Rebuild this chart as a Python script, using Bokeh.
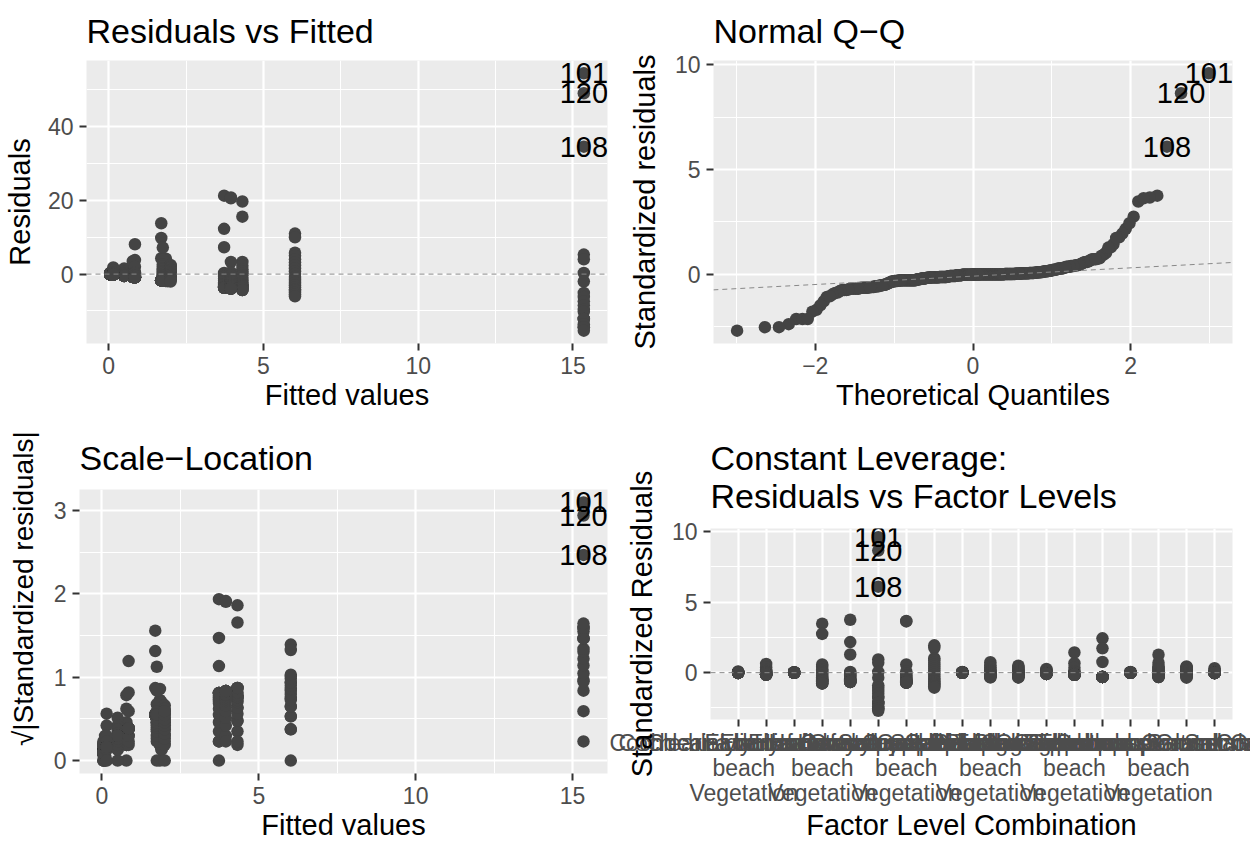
import numpy as np
from statistics import NormalDist
from bokeh.plotting import figure
from bokeh.layouts import column, row
from bokeh.models import Range1d, FixedTicker, ColumnDataSource, Span, Slope
from bokeh.embed import file_html
from bokeh.resources import INLINE
from bokeh.core.properties import value

# ---------------- data ----------------
species = ["Cochlearia danica", "Elymus farctus", "Honckenya peploides",
           "Salsola kali", "Plantago coronopus", "Tripleurospermum"]
habitats = ["Coastal\nbeach\nVegetation", "Grassland", "Saltmarsh"]

fitted_values = [0.10, 0.78, 0.05, 4.32, 3.73, 15.35, 3.95, 6.02, 0.05,
                 1.85, 1.90, 0.50, 0.85, 1.70, 0.05, 1.75, 2.00, 0.15]

res_g01 = [0.50, 0.30, 0.15, 0.10, 0.05, 0.02, 0.00, -0.02, -0.05, -0.08,
           -0.10, -0.10, -0.10, -0.10, -0.10, -0.10, -0.10, -0.10, -0.10, -0.10]
res_g02 = [3.50, 2.20, 1.20, 0.70, 0.40, 0.20, 0.20, 0.00, -0.20, -0.30,
           -0.78, -0.78, -0.78, -0.78, -0.78, -0.78, -0.78, -0.78, -0.78, -0.78]
res_g03 = [0.20, 0.20, 0.15, 0.10, 0.05, 0.00, -0.05, -0.05, -0.05, -0.05,
           -0.05, -0.05, -0.05, -0.05, -0.05, -0.05, -0.05, -0.05, -0.05, -0.05]
res_g04 = [19.70, 15.60, 3.30, 2.30, 1.30, 0.70, 0.20, -0.30, -1.30, -1.80,
           -2.30, -2.80, -3.00, -3.30, -3.30, -3.50, -3.80, -4.32, -4.32, -4.32]
res_g05 = [21.30, 12.30, 7.30, 0.30, 0.00, -0.30, -0.70, -1.20, -1.70, -2.20,
           -2.70, -2.90, -3.10, -3.30, -3.50, -3.73, -3.73, -3.73, -3.73, -3.73]
res_g06 = [54.50, 5.30, 4.00, 0.30, -2.00, -5.10, -6.20, 34.60, -7.40, -8.50,
           -9.70, -10.20, -12.20, -12.20, -12.20, -13.60, -14.40, -14.40, -15.35, 49.10]
res_g07 = [20.80, 20.60, 3.30, 0.50, -0.30, -1.00, -1.50, -2.00, -2.50, -2.90,
           -3.10, -3.30, -3.50, -3.60, -3.95, -3.95, -3.95, -3.95, -3.95, -3.95]
res_g08 = [11.00, 10.00, 5.80, 5.00, 4.00, 3.20, 2.40, 1.60, 0.80, 0.00,
           -0.80, -1.60, -2.40, -3.00, -3.60, -4.20, -4.60, -5.00, -5.50, -6.02]
res_g09 = [0.25, 0.20, 0.15, 0.10, 0.05, 0.00, -0.02, -0.05, -0.05, -0.05,
           -0.05, -0.05, -0.05, -0.05, -0.05, -0.05, -0.05, -0.05, -0.05, -0.05]
res_g10 = [4.20, 3.00, 2.20, 1.50, 0.90, 0.60, 0.40, 0.20, 0.00, -0.20,
           -0.40, -0.60, -0.80, -1.00, -1.10, -1.20, -1.30, -1.50, -1.85, -1.85]
res_g11 = [2.80, 2.40, 2.00, 1.60, 1.20, 0.90, 0.60, 0.30, 0.10, -0.10,
           -0.30, -0.50, -0.70, -0.90, -1.00, -1.10, -1.20, -1.40, -1.90, -1.90]
res_g12 = [1.50, 1.00, 0.80, 0.60, 0.40, 0.20, 0.10, 0.00, -0.10, -0.20,
           -0.30, -0.40, -0.50, -0.50, -0.50, -0.50, -0.50, -0.50, -0.50, -0.50]
res_g13 = [8.10, 3.80, 2.00, 0.50, 0.20, -0.30, -0.50, -0.85, -0.85, -0.85,
           -0.85, -0.85, -0.85, -0.85, -0.85, -0.85, -0.85, -0.85, -0.85, -0.85]
res_g14 = [13.80, 9.80, 4.30, -1.70, -1.70, -1.70, -1.70, -1.70, -1.70, -1.70,
           -1.70, -1.70, -1.70, -1.70, -1.70, -1.70, -1.70, -1.70, -1.70, -1.70]
res_g15 = [0.30, 0.20, 0.10, 0.05, 0.00, -0.05, -0.05, -0.05, -0.05, -0.05,
           -0.05, -0.05, -0.05, -0.05, -0.05, -0.05, -0.05, -0.05, -0.05, -0.05]
res_g16 = [7.20, 4.00, 2.60, 2.00, 1.50, 1.20, 0.80, 0.40, 0.00, -0.30,
           -0.50, -0.70, -0.90, -1.00, -1.10, -1.20, -1.40, -1.75, -1.75, -1.75]
res_g17 = [2.50, 2.20, 2.00, 1.80, 1.50, 1.20, 1.00, 0.80, 0.50, 0.30,
           0.00, -0.20, -0.40, -0.60, -0.80, -1.00, -1.20, -1.40, -1.70, -2.00]
res_g18 = [1.80, 1.00, 0.50, 0.30, 0.10, 0.00, -0.15, -0.15, -0.15, -0.15,
           -0.15, -0.15, -0.15, -0.15, -0.15, -0.15, -0.15, -0.15, -0.15, -0.15]

residuals = [res_g01, res_g02, res_g03, res_g04, res_g05, res_g06, res_g07, res_g08, res_g09,
             res_g10, res_g11, res_g12, res_g13, res_g14, res_g15, res_g16, res_g17, res_g18]
residual_sigma = 5.83  # residual standard error of the model

# ---------------- derived quantities ----------------
group_labels = [f"{sp}:{hb}" for sp in species for hb in habitats]
n_groups = len(fitted_values)
res = np.concatenate([np.asarray(r, dtype=float) for r in residuals])
fit = np.concatenate([np.full(len(r), f) for r, f in zip(residuals, fitted_values)])
grp = np.concatenate([np.full(len(r), i + 1) for i, r in enumerate(residuals)])
n = len(res)
obs = np.arange(1, n + 1)
lev = n_groups / n
std = res / (residual_sigma * np.sqrt(1 - lev))
sqabs = np.sqrt(np.abs(std))

order = np.argsort(std, kind="stable")
nd = NormalDist()
theo_sorted = np.array([nd.inv_cdf((i - 0.5) / n) for i in range(1, n + 1)])
theo = np.empty(n)
theo[order] = theo_sorted
q1, q3 = np.quantile(std, [0.25, 0.75])
z1, z3 = nd.inv_cdf(0.25), nd.inv_cdf(0.75)
qq_slope = (q3 - q1) / (z3 - z1)
qq_int = q1 - qq_slope * z1

top = np.argsort(-np.abs(std))[:3]

src = ColumnDataSource(dict(fit=fit, res=res, std=std, sqabs=sqabs, theo=theo, grp=grp))
lab = ColumnDataSource(dict(fit=fit[top], res=res[top], std=std[top], sqabs=sqabs[top],
                            theo=theo[top], grp=grp[top], txt=[str(o) for o in obs[top]]))


def expand(lo, hi, m=0.05):
    d = hi - lo
    return lo - m * d, hi + m * d


FONT = "Liberation Sans"
BG = "#EBEBEB"
PT = "#444444"


def make_fig(w, h, xr, yr, bl, br, bt, bb, title, title_standoff, ylab_standoff, valign="bottom"):
    p = figure(width=w, height=h, x_range=Range1d(*xr), y_range=Range1d(*yr),
               output_backend="svg", toolbar_location=None, frame_align=False,
               min_border_left=bl, min_border_right=br, min_border_top=bt, min_border_bottom=bb,
               background_fill_color=BG, border_fill_color="white", outline_line_color=None)
    p.title.text = title
    p.title.text_font = FONT
    p.title.text_font_size = "34px"
    p.title.text_font_style = "normal"
    p.title.text_color = "black"
    p.title.align = "left"
    p.title.vertical_align = valign
    p.title.offset = 0
    p.title.standoff = title_standoff
    p.title.text_line_height = 1.0
    for g in (p.xgrid[0], p.ygrid[0]):
        g.grid_line_color = "white"
        g.grid_line_width = 2.2
        g.minor_grid_line_color = "white"
        g.minor_grid_line_width = 1.1
    for ax in (p.xaxis[0], p.yaxis[0]):
        ax.axis_line_color = None
        ax.major_tick_line_color = "#333333"
        ax.major_tick_line_width = 2
        ax.major_tick_out = 7
        ax.major_tick_in = 0
        ax.minor_tick_line_color = None
        ax.major_label_text_font = FONT
        ax.major_label_text_font_size = "23px"
        ax.major_label_text_color = "#4D4D4D"
        ax.axis_label_text_font = FONT
        ax.axis_label_text_font_size = "29px"
        ax.axis_label_text_font_style = "normal"
        ax.axis_label_text_color = "black"
    p.xaxis[0].major_label_standoff = 6
    p.xaxis[0].axis_label_standoff = 2
    p.yaxis[0].major_label_standoff = 6
    p.yaxis[0].axis_label_standoff = ylab_standoff
    return p


def add_points(p, x, y):
    p.scatter(x, y, source=src, size=12.5, fill_color=PT, line_color=None)
    p.text(x, y, text="txt", source=lab, text_align="center", text_baseline="middle",
           text_font=value(FONT), text_font_size=value("29px"), text_color="black")


fx = expand(fit.min(), fit.max())
W3 = 609

# Panel 1: Residuals vs Fitted
p1 = make_fig(625, 420, fx, expand(res.min(), res.max()), 85, 18, 57, 77,
              "Residuals vs Fitted", 20, 9, "middle")
p1.xaxis[0].ticker = FixedTicker(ticks=[0, 5, 10, 15], minor_ticks=[2.5, 7.5, 12.5])
p1.yaxis[0].ticker = FixedTicker(ticks=[0, 20, 40], minor_ticks=[-10, 10, 30, 50])
p1.xaxis[0].axis_label = "Fitted values"
p1.yaxis[0].axis_label = "Residuals"
add_points(p1, "fit", "res")
p1.add_layout(Span(location=0, dimension="width", line_color="#888888", line_dash="5 4", line_width=1))

# Panel 2: Normal Q-Q
p2 = make_fig(625, 420, expand(theo.min(), theo.max()), expand(std.min(), std.max()),
              85, 18, 57, 77, "Normal Q\u2212Q", 20, 11, "middle")
p2.xaxis[0].ticker = FixedTicker(ticks=[-2, 0, 2], minor_ticks=[-3, -1, 1, 3])
p2.xaxis[0].major_label_overrides = {-2: "\u22122"}
p2.yaxis[0].ticker = FixedTicker(ticks=[0, 5, 10], minor_ticks=[-2.5, 2.5, 7.5])
p2.xaxis[0].axis_label = "Theoretical Quantiles"
p2.yaxis[0].axis_label = "Standardized residuals"
add_points(p2, "theo", "std")
p2.add_layout(Slope(gradient=qq_slope, y_intercept=qq_int, line_color="#888888",
                    line_dash="5 4", line_width=1))

# Panel 3: Scale-Location
p3 = make_fig(W3, 423, fx, expand(sqabs.min(), sqabs.max()), 79, 2, 69, 68,
              "Scale\u2212Location", 25, 12)
p3.xaxis[0].ticker = FixedTicker(ticks=[0, 5, 10, 15], minor_ticks=[2.5, 7.5, 12.5])
p3.yaxis[0].ticker = FixedTicker(ticks=[0, 1, 2, 3], minor_ticks=[0.5, 1.5, 2.5])
p3.xaxis[0].axis_label = "Fitted values"
p3.yaxis[0].axis_label = "\u00a0" * 11 + "\u221a|Standardized residuals|"
p3.yaxis[0].axis_label_text_font_size = "28px"
add_points(p3, "fit", "sqabs")

# Panel 4: Constant Leverage
p4 = make_fig(1250 - W3, 423, (0.014, 18.64), expand(std.min(), std.max()), 101, 18, 108, 120,
              "Constant Leverage:\nResiduals vs Factor Levels", 27, 11)
p4.xaxis[0].ticker = FixedTicker(ticks=list(range(1, n_groups + 1)), minor_ticks=[])
p4.xaxis[0].major_label_overrides = {i + 1: s for i, s in enumerate(group_labels)}
p4.xaxis[0].major_label_text_line_height = 0.97
p4.xaxis[0].major_label_standoff = 3
p4.xaxis[0].axis_label_standoff = 0
p4.yaxis[0].ticker = FixedTicker(ticks=[0, 5, 10], minor_ticks=[-2.5, 2.5, 7.5])
p4.xaxis[0].axis_label = "Factor Level Combination"
p4.yaxis[0].axis_label = "Standardized Residuals"
add_points(p4, "grp", "std")
p4.add_layout(Span(location=0, dimension="width", line_color="#888888", line_dash="5 4", line_width=1))

layout = column(row(p1, p2), row(p3, p4))
open("out.html", "w").write(file_html(layout, INLINE))
